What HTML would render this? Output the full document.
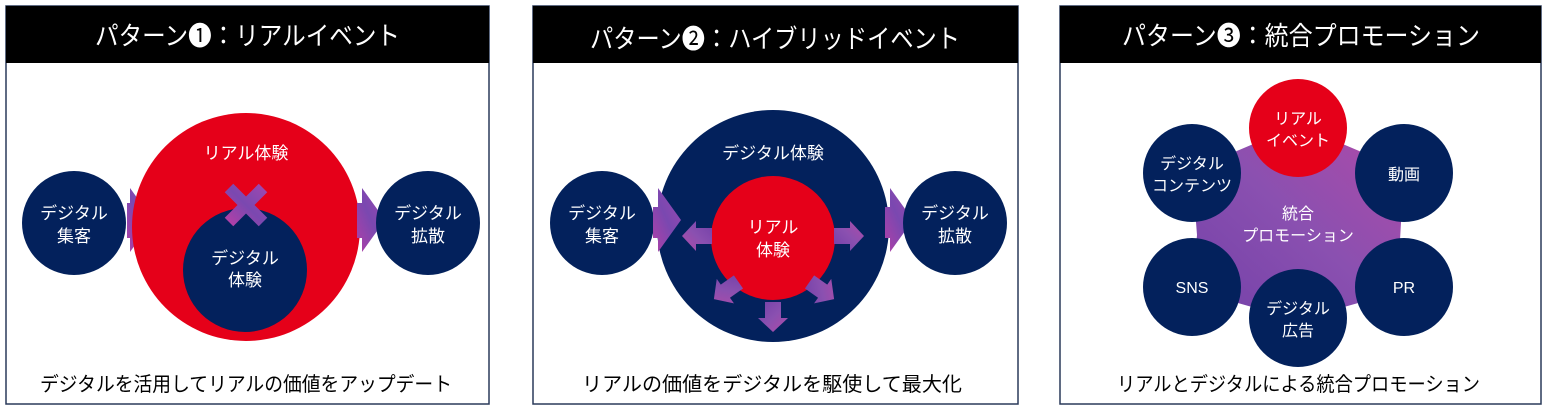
<!DOCTYPE html>
<html><head><meta charset="utf-8"><style>
body{margin:0;width:1565px;height:409px;background:#fff;overflow:hidden}
svg text{font-family:"Liberation Sans","Noto Sans CJK JP",sans-serif}
</style></head><body>
<svg width="1565" height="409" viewBox="0 0 1565 409">
<defs>
<linearGradient id="g" x1="0" y1="1" x2="1" y2="0">
<stop offset="0" stop-color="#b040a8"/><stop offset="0.5" stop-color="#7a48b0"/><stop offset="1" stop-color="#9a48b0"/></linearGradient>
<linearGradient id="h" x1="0" y1="1" x2="1" y2="0">
<stop offset="0" stop-color="#7340a8"/><stop offset="0.5" stop-color="#8a50b0"/><stop offset="1" stop-color="#b04aa8"/></linearGradient>
</defs>
<g fill="#fff" stroke="#2a3a5a" stroke-width="1.5">
<rect x="6" y="6" width="483" height="398"/>
<rect x="533" y="6" width="485" height="398"/>
<rect x="1060" y="6" width="481" height="398"/>
</g>
<rect x="6" y="6" width="483" height="57" fill="#000"/>
<rect x="533" y="6" width="485" height="57" fill="#000"/>
<rect x="1060" y="6" width="481" height="57" fill="#000"/>
<g fill="#fff" font-size="26">
<text x="95" y="45" textLength="305" lengthAdjust="spacingAndGlyphs">パターン❶：リアルイベント</text>
<text x="590" y="48" textLength="370" lengthAdjust="spacingAndGlyphs">パターン❷：ハイブリッドイベント</text>
<text x="1122" y="45" textLength="358" lengthAdjust="spacingAndGlyphs">パターン❸：統合プロモーション</text>
</g>
<g font-size="20" fill="#000">
<text x="40" y="391" textLength="412" lengthAdjust="spacingAndGlyphs">デジタルを活用してリアルの価値をアップデート</text>
<text x="582" y="391" textLength="380" lengthAdjust="spacingAndGlyphs">リアルの価値をデジタルを駆使して最大化</text>
<text x="1117" y="391" textLength="363" lengthAdjust="spacingAndGlyphs">リアルとデジタルによる統合プロモーション</text>
</g>
<!-- panel 1 -->
<circle cx="74" cy="223" r="52" fill="#03215c"/>
<polygon points="127,203 130,203 130,188 153,220 130,252 130,238 127,238" fill="url(#g)"/>
<circle cx="246" cy="227" r="114" fill="#e50019"/>
<circle cx="245" cy="270" r="62" fill="#03215c"/>
<g stroke="url(#g)" stroke-width="12"><line x1="229" y1="188" x2="263" y2="222"/><line x1="263" y1="188" x2="229" y2="222"/></g>
<polygon points="357,203 362,203 362,188 385,220 362,252 362,238 357,238" fill="url(#g)"/>
<circle cx="428" cy="223" r="52" fill="#03215c"/>
<g fill="#fff" font-size="17" text-anchor="middle">
<text x="74" y="219">デジタル</text><text x="74" y="242">集客</text>
<text x="246" y="159">リアル体験</text>
<text x="245" y="264">デジタル</text><text x="245" y="286">体験</text>
<text x="428" y="219">デジタル</text><text x="428" y="242">拡散</text>
</g>
<!-- panel 2 -->
<circle cx="602" cy="223" r="52" fill="#03215c"/>
<circle cx="773" cy="226" r="116" fill="#03215c"/>
<polygon points="653,207 658,207 658,188 681,220 658,252 658,238 653,238" fill="url(#g)"/>
<circle cx="773" cy="238" r="62" fill="#e50019"/>
<polygon points="885,207 890,207 890,188 913,220 890,252 890,238 885,238" fill="url(#g)"/>
<circle cx="955" cy="223" r="52" fill="#03215c"/>
<g fill="url(#h)">
<g transform="translate(698,236) rotate(180)"><polygon points="-14,-8 2,-8 2,-15 16,0 2,15 2,8 -14,8"/></g>
<g transform="translate(848,236)"><polygon points="-14,-8 2,-8 2,-15 16,0 2,15 2,8 -14,8"/></g>
<g transform="translate(773,316) rotate(90)"><polygon points="-14,-8 2,-8 2,-15 16,0 2,15 2,8 -14,8"/></g>
<g transform="translate(727,290) rotate(145)"><polygon points="-14,-8 2,-8 2,-15 16,0 2,15 2,8 -14,8"/></g>
<g transform="translate(821,290) rotate(35)"><polygon points="-14,-8 2,-8 2,-15 16,0 2,15 2,8 -14,8"/></g>
</g>
<g fill="#fff" font-size="17" text-anchor="middle">
<text x="602" y="219">デジタル</text><text x="602" y="242">集客</text>
<text x="773" y="159">デジタル体験</text>
<text x="773" y="233">リアル</text><text x="773" y="256">体験</text>
<text x="955" y="219">デジタル</text><text x="955" y="242">拡散</text>
</g>
<!-- panel 3 -->
<polygon points="1298,125 1404,170 1400,240 1404,290 1298,320 1192,290 1197,235 1192,170" fill="url(#h)"/>
<circle cx="1298" cy="128" r="49" fill="#e50019"/>
<circle cx="1192" cy="173" r="49" fill="#03215c"/>
<circle cx="1404" cy="173" r="49" fill="#03215c"/>
<circle cx="1192" cy="287" r="49" fill="#03215c"/>
<circle cx="1404" cy="287" r="49" fill="#03215c"/>
<circle cx="1298" cy="318" r="49" fill="#03215c"/>
<g fill="#fff" font-size="16" text-anchor="middle">
<text x="1298" y="124">リアル</text><text x="1298" y="146">イベント</text>
<text x="1192" y="169">デジタル</text><text x="1192" y="191">コンテンツ</text>
<text x="1404" y="180">動画</text>
<text x="1298" y="219">統合</text><text x="1298" y="241">プロモーション</text>
<text x="1192" y="293">SNS</text>
<text x="1404" y="293">PR</text>
<text x="1298" y="314">デジタル</text><text x="1298" y="336">広告</text>
</g>
</svg>
</body></html>
